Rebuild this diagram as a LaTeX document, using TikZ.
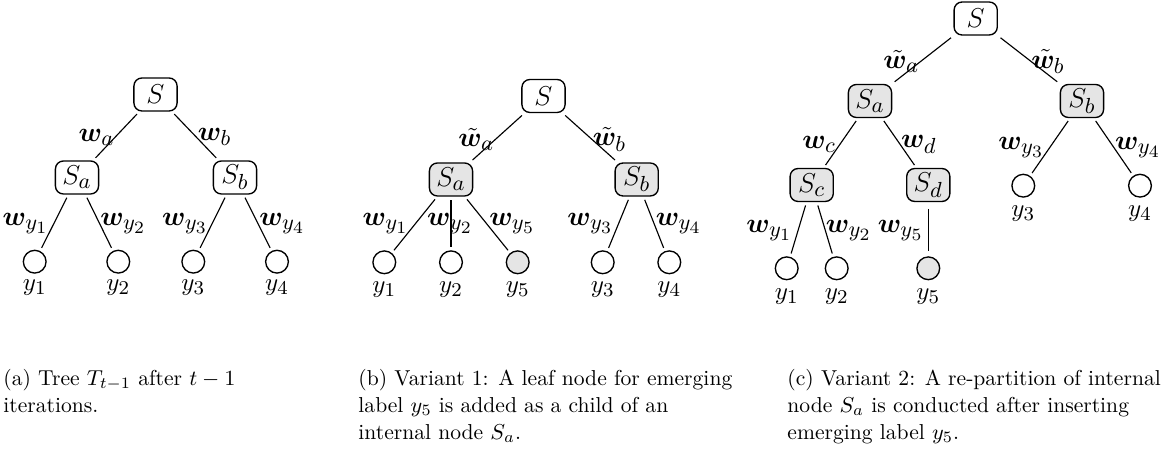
\RequirePackage{fix-cm}
\documentclass[tikz,border=0pt]{standalone}
\usepackage{amsmath,bm}
\DeclareMathSizes{12}{12}{9.6}{7.6}
\DeclareMathSizes{11}{11}{8.6}{6.5}
\DeclareMathSizes{9.5}{9.5}{7}{5.5}
\newcommand{\fsN}{\fontsize{12}{14}\selectfont}
\newcommand{\fsL}{\fontsize{11}{13}\selectfont}
\newcommand{\fsC}{\fontsize{9.5}{11.9}\selectfont}
\tikzset{
  inner/.style={draw, rounded corners=3.5pt, minimum width=19pt, minimum height=14.5pt, inner sep=1pt, font=\fsN, line width=0.6pt},
  innerhl/.style={inner, fill=gray!20},
  leaf/.style={draw, circle, minimum size=10pt, inner sep=0pt, line width=0.6pt},
  leafhl/.style={leaf, fill=gray!20},
  lab/.style={font=\fsL, inner sep=0pt},
  elab/.style={font=\fsN, inner sep=0pt},
  conn/.style={line width=0.5pt, shorten <=1.5pt, shorten >=1.5pt},
  captext/.style={font=\fsC, anchor=base west, inner sep=0pt},
}
\begin{document}
\begin{tikzpicture}[x=0.44pt,y=-0.44pt]
\useasboundingbox (0,0) rectangle (1171,455);
% ---------- panel (a)
\node[inner] (aS) at (155.5,94.5) {$S$};
\node[inner] (aSa) at (77,177.5) {$S_a$};
\node[inner] (aSb) at (235,177.5) {$S_b$};
\node[leaf] (ay1) at (34.7,261.7) {};
\node[leaf] (ay2) at (118.3,261.7) {};
\node[leaf] (ay3) at (193.3,261.7) {};
\node[leaf] (ay4) at (277,261.7) {};
\draw[conn] (aS) -- (aSa);
\draw[conn] (aS) -- (aSb);
\draw[conn] (aSa) -- (ay1);
\draw[conn] (aSa) -- (ay2);
\draw[conn] (aSb) -- (ay3);
\draw[conn] (aSb) -- (ay4);
\node[elab] (awa) at (96.5,137) {$\bm{w}_a$};
\node[elab] (awb) at (214.7,137) {$\bm{w}_b$};
\node[elab] (awy1) at (25.5,224) {$\bm{w}_{y_1}$};
\node[elab] (awy2) at (123.3,224) {$\bm{w}_{y_2}$};
\node[elab] (awy3) at (185,224) {$\bm{w}_{y_3}$};
\node[elab] (awy4) at (282.3,224) {$\bm{w}_{y_4}$};
\node[lab] (aly1) at (34.7,288) {$y_1$};
\node[lab] (aly2) at (118.3,288) {$y_2$};
\node[lab] (aly3) at (193.3,288) {$y_3$};
\node[lab] (aly4) at (277,288) {$y_4$};
% ---------- panel (b)
\node[inner] (bS) at (543.5,96) {$S$};
\node[innerhl] (bSa) at (451,179.5) {$S_a$};
\node[innerhl] (bSb) at (636.7,179.5) {$S_b$};
\node[leaf] (by1) at (384.3,262.3) {};
\node[leaf] (by2) at (451,262.3) {};
\node[leafhl] (by5) at (517.7,262.3) {};
\node[leaf] (by3) at (602.7,262.3) {};
\node[leaf] (by4) at (669.3,262.3) {};
\draw[conn] (bS) -- (bSa);
\draw[conn] (bS) -- (bSb);
\draw[conn] (bSa) -- (by1);
\draw[conn] (bSa) -- (by2);
\draw[conn] (bSa) -- (by5);
\draw[conn] (bSb) -- (by3);
\draw[conn] (bSb) -- (by4);
\node[elab] (bwa) at (476.3,139.5) {$\tilde{\bm{w}}_a$};
\node[elab] (bwb) at (609.5,139.5) {$\tilde{\bm{w}}_b$};
\node[elab] (bwy1) at (385.5,224) {$\bm{w}_{y_1}$};
\node[elab] (bwy2) at (450,224) {$\bm{w}_{y_2}$};
\node[elab] (bwy5) at (512.2,224) {$\bm{w}_{y_5}$};
\node[elab] (bwy3) at (590.3,224) {$\bm{w}_{y_3}$};
\node[elab] (bwy4) at (678.8,224) {$\bm{w}_{y_4}$};
\node[lab] (bly1) at (384.3,290) {$y_1$};
\node[lab] (bly2) at (451,290) {$y_2$};
\node[lab] (bly5) at (517.7,290) {$y_5$};
\node[lab] (bly3) at (602.7,290) {$y_3$};
\node[lab] (bly4) at (669.3,290) {$y_4$};
% ---------- panel (c)
\node[inner] (cS) at (975.7,18.5) {$S$};
\node[innerhl] (cSa) at (870,101) {$S_a$};
\node[innerhl] (cSb) at (1082,101) {$S_b$};
\node[innerhl] (cSc) at (811.7,185) {$S_c$};
\node[innerhl] (cSd) at (928.3,185) {$S_d$};
\node[leaf] (cy3) at (1023.3,185.7) {};
\node[leaf] (cy4) at (1140,185.7) {};
\node[leaf] (cy1) at (786.7,268.3) {};
\node[leaf] (cy2) at (836.7,268.3) {};
\node[leafhl] (cy5) at (928.3,268.3) {};
\draw[conn] (cS) -- (cSa);
\draw[conn] (cS) -- (cSb);
\draw[conn] (cSa) -- (cSc);
\draw[conn] (cSa) -- (cSd);
\draw[conn] (cSb) -- (cy3);
\draw[conn] (cSb) -- (cy4);
\draw[conn] (cSc) -- (cy1);
\draw[conn] (cSc) -- (cy2);
\draw[conn, shorten <=3pt, shorten >=2.5pt] (cSd) -- (cy5);
\node[elab] (cwa) at (901.2,61.7) {$\tilde{\bm{w}}_a$};
\node[elab] (cwb) at (1048,61.7) {$\tilde{\bm{w}}_b$};
\node[elab] (cwc) at (819.2,144.2) {$\bm{w}_c$};
\node[elab] (cwd) at (918.8,144.2) {$\bm{w}_d$};
\node[elab] (cwy3) at (1021.3,148) {$\bm{w}_{y_3}$};
\node[elab] (cwy4) at (1138,148) {$\bm{w}_{y_4}$};
\node[elab] (cwy1) at (769.3,230.5) {$\bm{w}_{y_1}$};
\node[elab] (cwy2) at (848.8,230.5) {$\bm{w}_{y_2}$};
\node[elab] (cwy5) at (900.7,230.5) {$\bm{w}_{y_5}$};
\node[lab] (cly3) at (1023.3,213.5) {$y_3$};
\node[lab] (cly4) at (1140,213.5) {$y_4$};
\node[lab] (cly1) at (786.7,296.7) {$y_1$};
\node[lab] (cly2) at (836.7,296.7) {$y_2$};
\node[lab] (cly5) at (928.3,296.7) {$y_5$};
% ---------- captions
\node[captext] (capa1) at (3,385.7) {(a) Tree $T_{t-1}$ after $t-1$};
\node[captext] (capa2) at (3,412.7) {iterations.};
\node[captext] (capb1) at (358,385.7) {(b) Variant 1: A leaf node for emerging};
\node[captext] (capb2) at (358,412.7) {label $y_5$ is added as a child of an};
\node[captext] (capb3) at (358,440) {internal node $S_a$.};
\node[captext] (capc1) at (787,385.7) {(c) Variant 2: A re-partition of internal};
\node[captext] (capc2) at (787,412.7) {node $S_a$ is conducted after inserting};
\node[captext] (capc3) at (787,440) {emerging label $y_5$.};
\end{tikzpicture}
\end{document}
